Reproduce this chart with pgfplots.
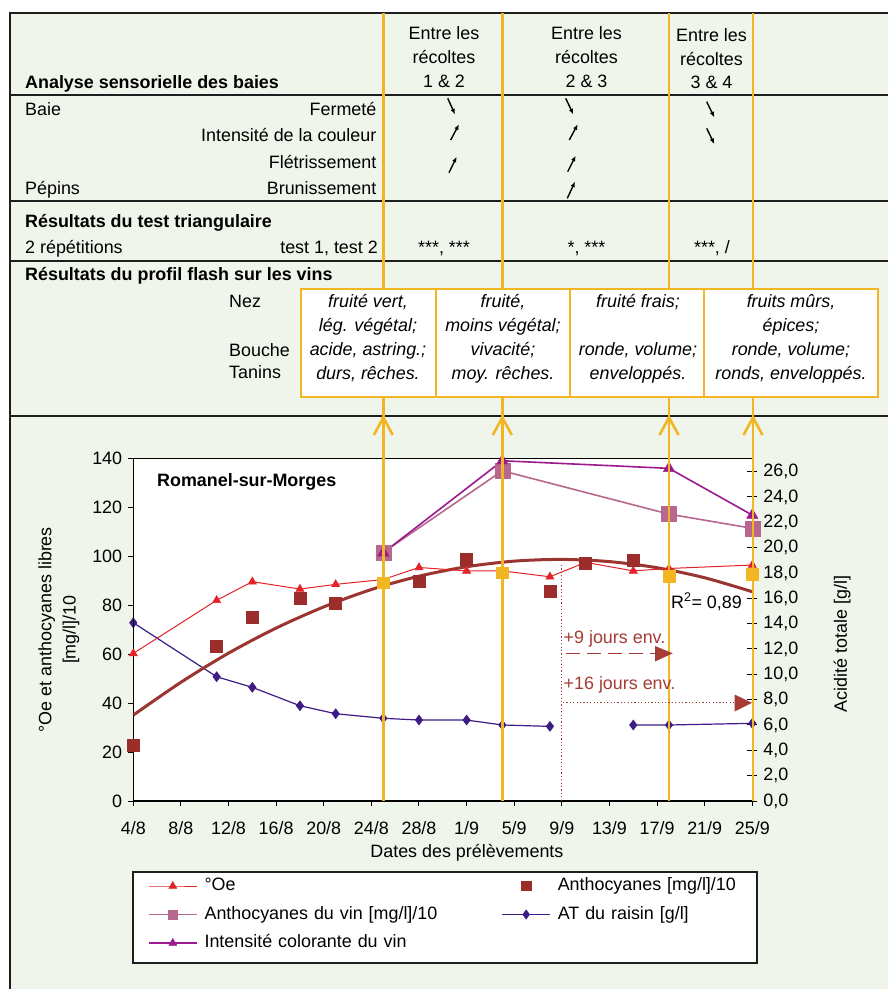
\documentclass[border=0pt]{standalone}
\usepackage{pgfplots}
\pgfplotsset{compat=1.18}
\usepackage{fontspec}
\setmainfont{Liberation Sans}
\usetikzlibrary{arrows.meta}
\definecolor{bggreen}{HTML}{F0F5EC}
\definecolor{gold}{HTML}{F2B624}
\definecolor{oecol}{HTML}{E42229}
\definecolor{antcol}{HTML}{9B2D2A}
\definecolor{trendcol}{HTML}{9A3530}
\definecolor{vincol}{HTML}{B8678E}
\definecolor{icol}{HTML}{9B1A8E}
\definecolor{atcol}{HTML}{3D1C85}
\definecolor{annot}{HTML}{A63C35}
\definecolor{framecol}{HTML}{1E1E1E}
\begin{document}
\fontsize{17.9}{21}\selectfont
\begin{tikzpicture}
\useasboundingbox (0pt,0pt) rectangle (888pt,-989pt);
% ---------- background and table ----------
\begin{scope}[x=1pt,y=-1pt]
\fill[white] (0,0) rectangle (888,989);
\fill[bggreen] (10,13) rectangle (888,989);
\draw[line width=1.5pt, framecol] (888,13) -- (10,13) -- (10,989);
\foreach \yy in {95,201,261,416} \draw[line width=1.5pt, framecol] (10,\yy) -- (888,\yy);
% section titles
\node[anchor=base west, font=\bfseries, inner sep=0pt] at (25,88) {Analyse sensorielle des baies};
\node[anchor=base west, font=\bfseries, inner sep=0pt] at (25,227) {Résultats du test triangulaire};
\node[anchor=base west, font=\bfseries, inner sep=0pt] at (25,280) {Résultats du profil flash sur les vins};
% rows
\node[anchor=base west, inner sep=0pt] at (25,115) {Baie};
\node[anchor=base east, inner sep=0pt] at (376.5,115) {Fermeté};
\node[anchor=base east, inner sep=0pt] at (376.5,141) {Intensité de la couleur};
\node[anchor=base east, inner sep=0pt] at (376.5,168) {Flétrissement};
\node[anchor=base west, inner sep=0pt] at (25,194) {Pépins};
\node[anchor=base east, inner sep=0pt] at (376.5,194) {Brunissement};
\node[anchor=base west, inner sep=0pt] at (25,253) {2 répétitions};
\node[anchor=base east, inner sep=0pt] at (378,253) {test 1, test 2};
\node[anchor=base west, inner sep=0pt] at (229,307) {Nez};
\node[anchor=base west, inner sep=0pt] at (229,356) {Bouche};
\node[anchor=base west, inner sep=0pt] at (229,378) {Tanins};
% column headers
\node[anchor=base, inner sep=0pt] at (444,39) {Entre les};
\node[anchor=base, inner sep=0pt] at (444,63) {récoltes};
\node[anchor=base, inner sep=0pt] at (444,87) {1 \& 2};
\node[anchor=base, inner sep=0pt] at (586.5,39) {Entre les};
\node[anchor=base, inner sep=0pt] at (586.5,63) {récoltes};
\node[anchor=base, inner sep=0pt] at (586.5,87) {2 \& 3};
\node[anchor=base, inner sep=0pt] at (711.5,41) {Entre les};
\node[anchor=base, inner sep=0pt] at (711.5,65) {récoltes};
\node[anchor=base, inner sep=0pt] at (711.5,88) {3 \& 4};
% triangle test results
\node[anchor=base, inner sep=0pt] at (444,253) {***, ***};
\node[anchor=base, inner sep=0pt] at (586.5,253) {*, ***};
\node[anchor=base, inner sep=0pt] at (712,253) {***, /};
% trend arrows
\tikzset{tarr/.style={line width=1.4pt, -{Latex[length=5.5pt,width=4.5pt]}}}
\draw[tarr] (447.7,98.3) -- (455,114.3);
\draw[tarr] (450.7,140) -- (459,124.3);
\draw[tarr] (449,172.7) -- (456.7,156.7);
\draw[tarr] (565.7,98.3) -- (573.3,114.3);
\draw[tarr] (569.3,140) -- (577.7,124.3);
\draw[tarr] (567.7,171.7) -- (575.7,155.7);
\draw[tarr] (567.3,198.3) -- (575,181.7);
\draw[tarr] (706.7,101.7) -- (714.3,117.3);
\draw[tarr] (706.7,128.3) -- (714.3,144);
% plot area and legend box
\fill[white] (133.3,458.3) rectangle (752.3,801);
\draw[line width=1.3pt, framecol, fill=white] (133,872) rectangle (757,963);
\end{scope}
% ---------- right axis: AT du raisin ----------
\begin{axis}[
  at={(133.3pt,-801pt)}, anchor=south west,
  width=619pt, height=342.7pt, scale only axis,
  xmin=0, xmax=52, ymin=0, ymax=27.05,
  axis x line=none, axis y line*=right,
  clip=false,
  ytick={0,2,...,26},
  tick align=center, major tick length=10pt,
  axis line style={line width=1.3pt, black},
  tick style={line width=1pt, black},
  /pgf/number format/assume math mode=true,
  yticklabel style={/pgf/number format/.cd, fixed, fixed zerofill, precision=1, use comma},
  ylabel={Acidité totale [g/l]},
  ylabel style={at={(axis description cs:1.145,0.458)}, anchor=center},
  unbounded coords=jump,
]
\addplot[color=atcol, line width=1.2pt, mark=diamond*, mark size=5pt, mark options={line width=0.5pt}] coordinates {
(0,14.07)(7,9.81)(10,8.97)(14,7.52)(17,6.89)(21,6.53)(24,6.39)(28,6.39)(31,6.00)(35,5.89)(38,nan)(42,6.00)(45,6.00)(52,6.13)};
\end{axis}
% ---------- left axis ----------
\begin{axis}[
  at={(133.3pt,-801pt)}, anchor=south west,
  width=619pt, height=342.7pt, scale only axis,
  xmin=0, xmax=52, ymin=0, ymax=140,
  clip=false,
  xtick={0,4,...,52},
  xticklabels={4/8,8/8,12/8,16/8,20/8,24/8,28/8,1/9,5/9,9/9,13/9,17/9,21/9,25/9},
  ytick={0,20,...,140},
  xtick pos=left, ytick pos=left,
  tick align=outside, major tick length=5pt,
  axis line style={line width=1.3pt, black},
  tick style={line width=1pt, black},
  /pgf/number format/assume math mode=true,
  xticklabel style={yshift=-9pt},
  xlabel={Dates des prélèvements},
  xlabel style={at={(axis description cs:0.539,-0.1517)}, anchor=center},
  ylabel={°Oe et anthocyanes libres\\{[mg/l]/10}},
  ylabel style={at={(axis description cs:-0.1203,0.5)}, anchor=center, align=center, font=\fontsize{17.9}{24.3}\selectfont},
  legend columns=2,
  legend cell align=left,
  legend image code/.code={\draw[mark repeat=2,mark phase=2,#1] plot coordinates {(0pt,0pt) (24pt,0pt) (48pt,0pt)};},
  legend image post style={mark size=4.6pt},
  legend style={draw=none, fill=none, at={(axis description cs:0.0237,-0.2232)}, anchor=north west,
    inner sep=0pt, outer sep=0pt, row sep=11.5pt, column sep=7pt,
    nodes={inner sep=0pt, text width=285pt, align=left, text height=13pt, text depth=4pt},
    /tikz/every even column/.append style={column sep=12pt}},
]
% polynomial trendline of anthocyanes
\addplot[forget plot, color=trendcol, line width=3pt, smooth] coordinates {
(0,35.1)(4,48.5)(8,60.4)(12,70.65)(16,79.3)(20,86.4)(24,91.85)(28,95.7)(32,98.0)(36,98.7)(40,97.8)(44,95.3)(48,91.2)(52,85.5)};
\addplot[color=oecol, line width=1pt, mark=triangle*, mark size=4.8pt, mark options={line width=0.4pt}] coordinates {
(0,60.3)(7,82.0)(10,89.6)(14,86.6)(17,88.5)(21,90.5)(24,95.4)(28,94.0)(31,94.0)(35,91.6)(38,97.5)(42,94.0)(45,95.0)(52,96.4)};
\addlegendentry{°Oe}
\addplot[only marks, color=antcol, mark=square*, mark size=6pt, mark options={line width=0.4pt}] coordinates {
(0,22.7)(7,63.3)(10,74.9)(14,82.8)(17,81.0)(24,89.9)(28,98.9)(35,85.9)(38,97.1)(42,98.4)};
\addlegendentry{Anthocyanes [mg/l]/10}
\addplot[color=vincol, line width=1.6pt, mark=square*, mark size=7.5pt, mark options={line width=0.4pt}] coordinates {
(21,101.6)(31,134.9)(45,117.2)(52,111.4)};
\addlegendentry{Anthocyanes du vin [mg/l]/10}
\addlegendimage{color=atcol, line width=1.2pt, mark=diamond*, mark size=5pt, mark options={line width=0.5pt}}
\addlegendentry{AT du raisin [g/l]}
\addplot[color=icol, line width=1.6pt, mark=triangle*, mark size=6.5pt, mark options={line width=0.4pt}] coordinates {
(21,101.4)(31,139.0)(45,135.9)(52,116.8)};
\addlegendentry{Intensité colorante du vin}
\addplot[forget plot, only marks, color=gold, mark=square*, mark size=5.8pt] coordinates {
(21,89.2)(31,93.2)(45,91.9)(52,92.6)};
\end{axis}
% ---------- overlays ----------
\begin{scope}[x=1pt,y=-1pt]
\foreach \xx in {383.3,502.3,669,753} {
  \draw[gold, line width=2.6pt] (\xx,13) -- (\xx,289);
  \draw[gold, line width=2.6pt] (\xx,397.3) -- (\xx,801);
  \draw[gold, line width=2.6pt, line join=miter] (\xx-9.5,435) -- (\xx,417.5) -- (\xx+9.5,435);
}
\tikzset{fbox/.style={draw=gold, line width=2pt, fill=white}}
\draw[fbox] (301,289) rectangle (435.5,397.3);
\draw[fbox] (435.5,289) rectangle (570,397.3);
\draw[fbox] (570,289) rectangle (704,397.3);
\draw[fbox] (704,289) rectangle (878,397.3);
\tikzset{bt/.style={anchor=base, inner sep=0pt, font=\itshape}}
\node[bt] at (368,307) {fruité vert,};
\node[bt] at (368,331) {lég. végétal;};
\node[bt] at (368,355) {acide, astring.;};
\node[bt] at (368,379) {durs, rêches.};
\node[bt] at (503,307) {fruité,};
\node[bt] at (503,331) {moins végétal;};
\node[bt] at (503,355) {vivacité;};
\node[bt] at (503,379) {moy. rêches.};
\node[bt] at (638,307) {fruité frais;};
\node[bt] at (638,355) {ronde, volume;};
\node[bt] at (638,379) {enveloppés.};
\node[bt] at (791,307) {fruits mûrs,};
\node[bt] at (791,331) {épices;};
\node[bt] at (791,355) {ronde, volume;};
\node[bt] at (791,379) {ronds, enveloppés.};
% chart annotations
\node[anchor=base west, inner sep=0pt, font=\bfseries] at (157,486.5) {Romanel-sur-Morges};
\node[anchor=base east, inner sep=0pt] at (742,608) {R\textsuperscript{2}= 0,89};
\draw[annot, line width=1.1pt, dash pattern=on 1.2pt off 2.2pt] (561.3,565) -- (561.3,801);
\node[anchor=base west, inner sep=0pt, text=annot] at (563.5,643) {+9 jours env.};
\draw[annot, line width=1.3pt, dash pattern=on 14pt off 7pt] (566,653.3) -- (655,653.3);
\fill[annot] (655,646) -- (672.7,653.3) -- (655,661.5) -- cycle;
\node[anchor=base west, inner sep=0pt, text=annot] at (563.5,689.5) {+16 jours env.};
\draw[annot, line width=1.2pt, dash pattern=on 1.2pt off 2.2pt] (563,702.3) -- (735,702.3);
\fill[annot] (734.5,694.5) -- (752,702.8) -- (734.5,711.5) -- cycle;
\end{scope}
\end{tikzpicture}
\end{document}
